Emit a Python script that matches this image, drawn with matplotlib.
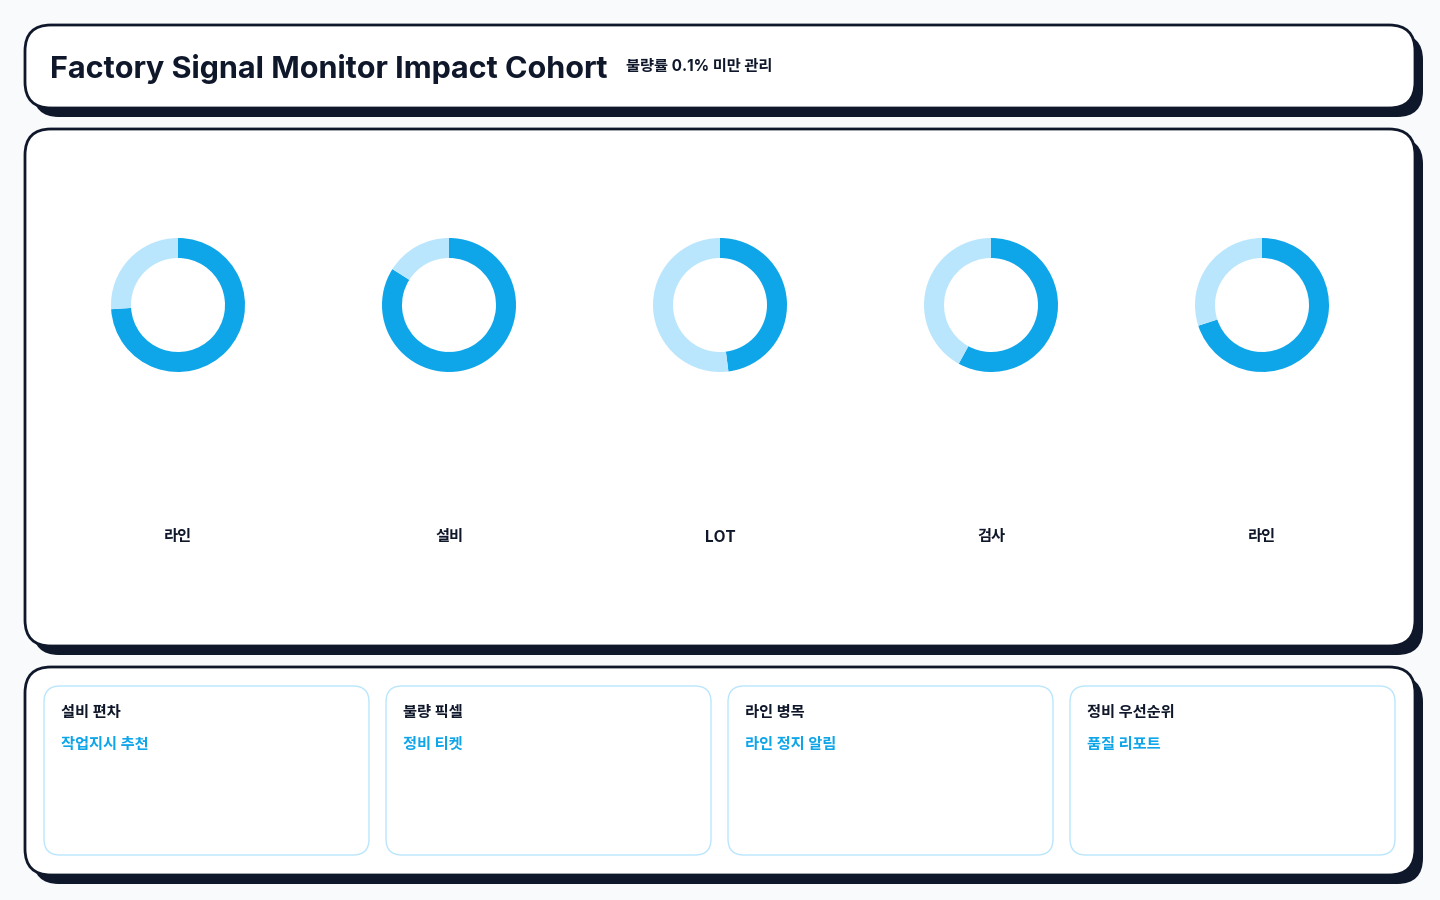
import matplotlib
matplotlib.use('Agg')
import matplotlib.pyplot as plt
from matplotlib.patches import FancyBboxPatch

plt.rcParams['font.family'] = ['Inter', 'Noto Sans CJK KR', 'DejaVu Sans']

title = 'Factory Signal Monitor Impact Cohort'
subtitle = '불량률 0.1% 미만 관리'
donut_labels = ['라인', '설비', 'LOT', '검사', '라인']
donut_values = [74, 84, 48, 58, 70]
card_titles = ['설비 편차', '불량 픽셀', '라인 병목', '정비 우선순위']
card_actions = ['작업지시 추천', '정비 티켓', '라인 정지 알림', '품질 리포트']

DARK = '#0f172a'
BLUE = '#0ea5e9'
LIGHT = '#bae6fd'
BG = '#f8fafc'

fig = plt.figure(figsize=(14.4, 9), dpi=100, facecolor=BG)
ax = fig.add_axes([0, 0, 1, 1])
ax.set_xlim(0, 1440)
ax.set_ylim(900, 0)
ax.axis('off')


def card(x0, y0, x1, y1, r=26):
    # shadow first, then the white card on top
    ax.add_patch(FancyBboxPatch((x0 + 8, y0 + 9), x1 - x0, y1 - y0,
                                boxstyle='round,pad=0,rounding_size=%d' % r,
                                fc=DARK, ec=DARK, lw=0, zorder=1))
    ax.add_patch(FancyBboxPatch((x0, y0), x1 - x0, y1 - y0,
                                boxstyle='round,pad=0,rounding_size=%d' % r,
                                fc='white', ec=DARK, lw=2, zorder=2))


card(25, 25, 1415, 108)
card(25, 129, 1415, 646)
card(25, 667, 1415, 875)

ax.text(50, 69, title, fontsize=22, fontweight='bold', color=DARK,
        va='center', ha='left', zorder=3)
ax.text(626, 66, subtitle, fontsize=11, fontweight='bold', color=DARK,
        va='center', ha='left', zorder=3)

# donuts
R = 67
for i, (lab, v) in enumerate(zip(donut_labels, donut_values)):
    cx = 178 + 271 * i
    cy = 305
    dax = fig.add_axes([(cx - 70) / 1440, 1 - (cy + 70) / 900, 140 / 1440, 140 / 900])
    dax.pie([v, 100 - v], colors=[BLUE, LIGHT], startangle=90, counterclock=False,
            radius=R / 70, wedgeprops=dict(width=20 / 70, linewidth=0))
    dax.set_xlim(-1, 1)
    dax.set_ylim(-1, 1)
    dax.set_aspect('equal')
    dax.axis('off')
    ax.text(cx, 537, lab, fontsize=11, fontweight='bold', color=DARK,
            ha='center', va='center', zorder=3)

# bottom cards
for i, (t, a) in enumerate(zip(card_titles, card_actions)):
    x0 = 44 + 342 * i
    ax.add_patch(FancyBboxPatch((x0, 686), 325, 169,
                                boxstyle='round,pad=0,rounding_size=16',
                                fc='white', ec=LIGHT, lw=1, zorder=3))
    ax.text(x0 + 17, 712, t, fontsize=11, fontweight='bold', color=DARK,
            ha='left', va='center', zorder=4)
    ax.text(x0 + 17, 744, a, fontsize=11, fontweight='bold', color=BLUE,
            ha='left', va='center', zorder=4)

fig.savefig('out.png', dpi=100, facecolor=BG)
